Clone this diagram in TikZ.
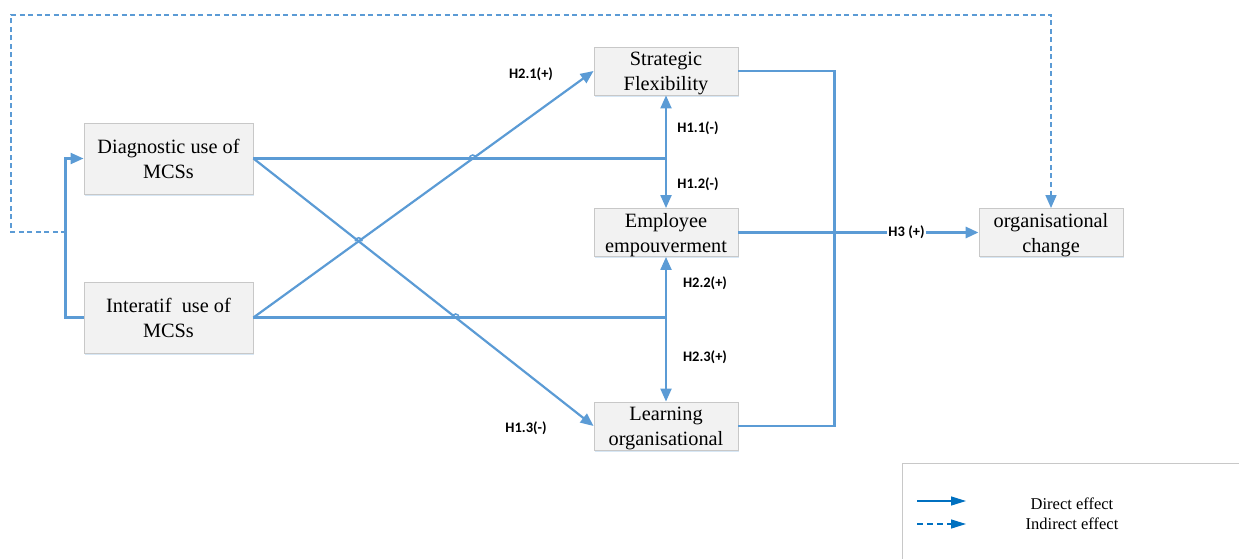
\documentclass[tikz,border=0pt]{standalone}
\usepackage{fontspec}
\setmainfont{Liberation Serif}
\newfontfamily\labelfont{Carlito}
\usetikzlibrary{arrows.meta,shadows,intersections,calc}
\definecolor{linkblue}{HTML}{5B9BD5}
\definecolor{legendblue}{HTML}{0070C0}
\definecolor{boxfill}{HTML}{F2F2F2}
\definecolor{boxedge}{HTML}{C8C8C8}
\definecolor{shadowblue}{HTML}{BDD7EE}
\begin{document}
\begin{tikzpicture}[x=1pt,y=-1pt,
  box/.style={draw=boxedge, fill=boxfill, line width=0.9pt, inner sep=0pt,
    align=center, font=\fontsize{20.3}{25}\selectfont, text depth=0pt,
    drop shadow={shadow xshift=0.6pt, shadow yshift=-1.6pt, fill=shadowblue, opacity=0.6}},
  widebox/.style={box, minimum width=169pt, minimum height=71pt},
  midbox/.style={box, minimum width=144pt, minimum height=48pt},
  link/.style={draw=linkblue, line width=2.2pt},
  tip/.style={-{Triangle[length=13pt,width=11pt]}},
  indirect/.style={line width=1.6pt, dash pattern=on 5pt off 3.5pt},
  hyp/.style={font=\labelfont\bfseries\fontsize{14.5}{16}\selectfont, inner sep=1pt},
  jump/.style={draw=linkblue, line width=1.5pt},
  legendtext/.style={font=\fontsize{16.5}{18}\selectfont},
]
\useasboundingbox (0,0) rectangle (1239,559);

% constructs
\node[widebox] (diag)  at (168.5,158.5) {Diagnostic use of\\MCSs};
\node[widebox] (inter) at (168.5,317.5) {Interatif~ use of\\MCSs};
\node[midbox]  (strat) at (666,71)    {Strategic\\Flexibility};
\node[midbox]  (emp)   at (666,232.5) {Employee\\empouverment};
\node[midbox]  (learn) at (666,426)   {Learning\\organisational};
\node[midbox]  (chg)   at (1051,232.5) {organisational\\change};

% branch points
\coordinate (jd) at (strat.south |- diag.east);
\coordinate (ji) at (strat.south |- inter.east);
\coordinate (busT) at ($(strat.east)+(96,0)$);
\coordinate (busM) at (busT |- emp.east);
\coordinate (fbL) at (66,232);
\coordinate (fbC1) at (11,232);
\coordinate (fbC2) at (11,15);

% diagnostic use
\draw[link, name path=hD] (diag.east) -- (jd);
\draw[link, tip] (jd) -- (strat.south);
\draw[link, tip] (jd) -- (emp.north);
\draw[link, tip, name path=dB] (diag.east) -- (learn.west);

% interactive use
\draw[link, name path=hI] (inter.east) -- (ji);
\draw[link, tip] (ji) -- (emp.south);
\draw[link, tip] (ji) -- (learn.north);
\draw[link, tip, name path=dA] (inter.east) -- (strat.west);

% outcomes to organisational change
\draw[link] (strat.east) -- (busT) |- (learn.east);
\draw[link] (emp.east) -- (busM);
\draw[link, line width=3pt, tip] (busM) -- (chg.west)
  node[pos=0.5, hyp, fill=white] {H3 (+)};

% feedback loops
\draw[link, tip] (inter.west) -- ++(-18,0) |- (diag.west);
\draw[link, indirect, tip] (fbL) -- (fbC1) -- (fbC2) -| (chg.north);

% line jumps at crossings
\path[name intersections={of=dA and hD, by=x1}];
\path[name intersections={of=dA and dB, by=x2}];
\path[name intersections={of=dB and hI, by=x3}];
\foreach \p in {x1,x2,x3}
  \draw[jump] ($(\p)+(-3.5,0)$) arc[start angle=180, end angle=360, radius=3.5];

% hypothesis labels
\node[hyp] (h21) at (531,74)  {H2.1(+)};
\node[hyp] (h11) at (698,128) {H1.1(-)};
\node[hyp] (h12) at (698,184) {H1.2(-)};
\node[hyp] (h22) at (705,283) {H2.2(+)};
\node[hyp] (h23) at (705,357) {H2.3(+)};
\node[hyp] (h13) at (526,428) {H1.3(-)};

% legend
\coordinate (lgA) at (902,560);
\coordinate (lgB) at (902,463);
\coordinate (lgC) at (1240,463);
\draw[boxedge, line width=0.9pt] (lgA) -- (lgB) -- (lgC);
\coordinate (l1a) at (917,501);
\coordinate (l1b) at (966,501);
\coordinate (l2a) at (917,524);
\coordinate (l2b) at (966,524);
\draw[legendblue, line width=1.3pt, -{Triangle[length=15pt,width=9pt]}] (l1a) -- (l1b);
\draw[legendblue, line width=1.3pt, dash pattern=on 5.5pt off 4.5pt, -{Triangle[length=15pt,width=9pt]}] (l2a) -- (l2b);
\node[legendtext] (ld) at (1072,504) {Direct effect};
\node[legendtext] (li) at (1072,524) {Indirect effect};
\end{tikzpicture}
\end{document}
